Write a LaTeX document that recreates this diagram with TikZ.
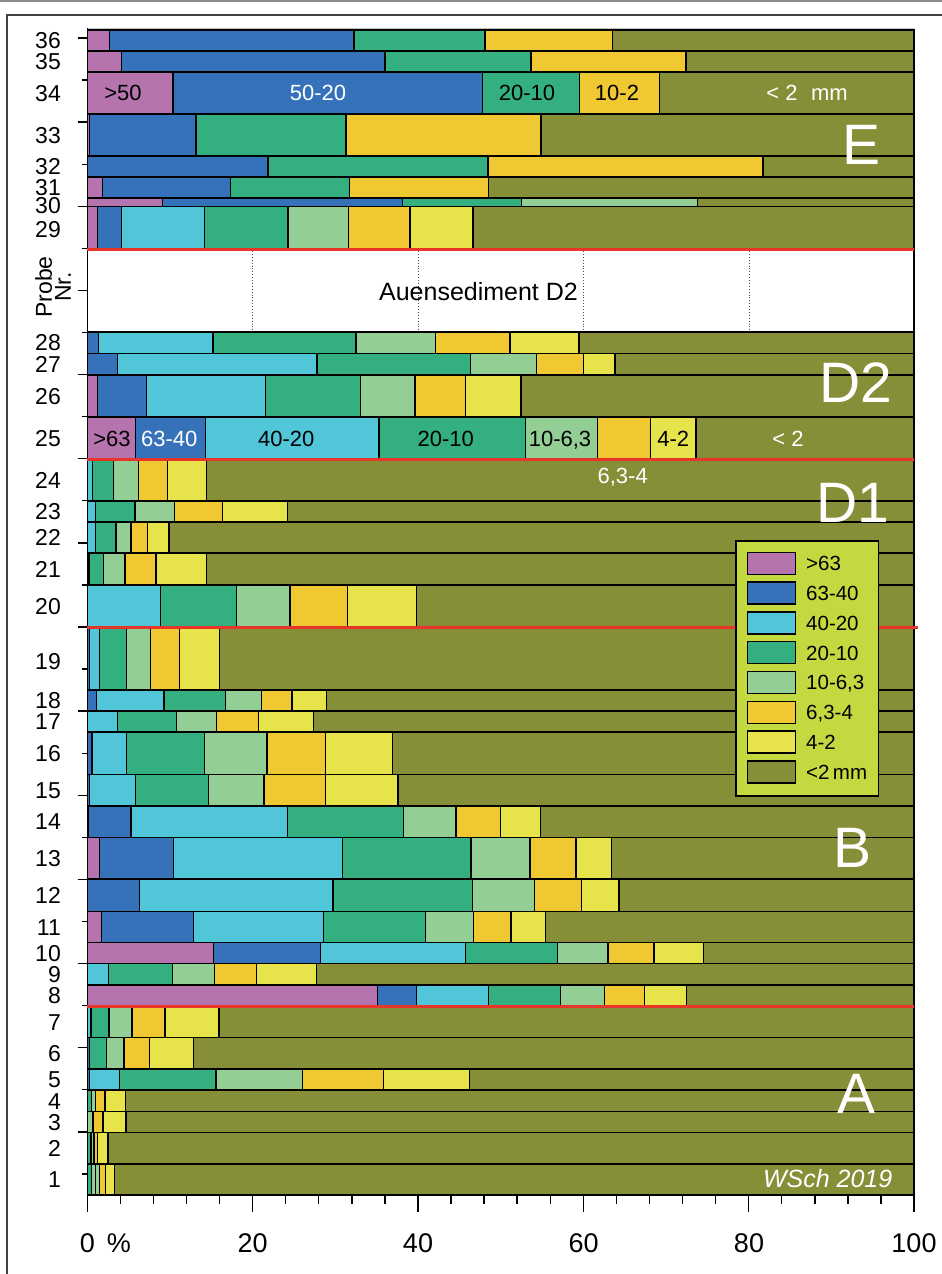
\documentclass[tikz,border=0pt]{standalone}
\usepackage{fontspec}
\setmainfont{Liberation Sans}
\definecolor{pu}{HTML}{B574AE}
\definecolor{bl}{HTML}{3672B9}
\definecolor{cy}{HTML}{50C6D8}
\definecolor{gr}{HTML}{33AF80}
\definecolor{lg}{HTML}{93CE95}
\definecolor{or}{HTML}{F0C832}
\definecolor{ye}{HTML}{E6E44A}
\definecolor{ol}{HTML}{868F38}
\definecolor{legbg}{HTML}{C4D940}
\definecolor{redl}{HTML}{E8352A}
\newcommand{\fsz}[1]{\fontsize{#1}{#1}\selectfont}
\newcommand{\gbar}[3]{%
  \xdef\gx{87.3}%
  \foreach \xe/\cc in {#3}{%
    \filldraw[seg, fill=\cc] (\gx,#1) rectangle (\xe,#2);%
    \xdef\gx{\xe}%
  }%
}
\begin{document}
\begin{tikzpicture}[x=1pt,y=-1pt,
  seg/.style={draw=black,line width=1.3pt},
  axisline/.style={draw=black,line width=1.4pt},
  redline/.style={draw=redl,line width=3pt},
  rowlab/.style={font=\fsz{23},inner sep=0pt,text height=16.4pt,text depth=0pt,anchor=east},
  barlab/.style={font=\fsz{22},inner sep=0pt,text height=15.75pt,text depth=0pt,anchor=center},
  leglab/.style={font=\fsz{20.5},inner sep=0pt,text height=14.7pt,text depth=0pt,anchor=west},
  axlab/.style={font=\fsz{27},inner sep=0pt,text height=19.3pt,text depth=0pt,anchor=center},
  biglab/.style={font=\fsz{57},text=white,inner sep=0pt,text height=40.8pt,text depth=0pt,anchor=center}]
\useasboundingbox (0,0) rectangle (942,1274);
\fill[white] (0,0) rectangle (942,1274);
% page frame
\draw[black!45, line width=1.2pt] (0,1) -- (942,1);
\draw[black!75, line width=1.2pt] (7,1274) -- (7,15) -- (942,15);
\draw[black!25, line width=0.8pt] (87.3,28) -- (914,28);
% white box
\filldraw[seg, fill=white] (87.3,249) rectangle (914,332);
\foreach \xx in {252.6,418,583.6,749}
  \draw[black!70, dotted, line width=0.9pt] (\xx,251) -- (\xx,330);
\node[font=\fsz{25},inner sep=0pt,text height=17.9pt,text depth=0pt] (aue) at (478.5,291.7) {Auensediment D2};
% bars
\gbar{30}{51}{109.7/pu,354/bl,485/gr,612.7/or,914/ol}
\gbar{51}{72}{121.3/pu,385/bl,531/gr,686/or,914/ol}
\gbar{72}{114}{173/pu,482.3/bl,579.3/gr,659.7/or,914/ol}
\gbar{114}{156}{89.3/pu,196/bl,346/gr,541/or,914/ol}
\gbar{156}{177}{268/bl,488/gr,763/or,914/ol}
\gbar{177}{198}{102.3/pu,230.3/bl,349.7/gr,488.3/or,914/ol}
\gbar{198}{206.5}{162.3/pu,402.3/bl,521.7/gr,697.7/lg,914/ol}
\gbar{206.5}{249}{97.3/pu,121.7/bl,204.3/cy,288/gr,348.7/lg,410/or,473/ye,914/ol}
\gbar{332}{353.5}{98.3/bl,213/cy,356/gr,435.7/lg,510/or,579/ye,914/ol}
\gbar{353.5}{375}{117.3/bl,317/cy,470.3/gr,536.7/lg,583.3/or,615/ye,914/ol}
\gbar{375}{417}{97.3/pu,146.7/bl,265.3/cy,360.7/gr,415/lg,465.3/or,521/ye,914/ol}
\gbar{417}{459}{135.7/pu,205.7/bl,379/cy,525.3/gr,597.3/lg,650.7/or,696/ye,914/ol}
\gbar{459}{501}{92.3/cy,113.3/gr,138.3/lg,167.7/or,206.7/ye,914/ol}
\gbar{501}{522}{95.7/cy,135/gr,174.7/lg,222.3/or,287.3/ye,914/ol}
\gbar{522}{553}{95.7/cy,116/gr,131/lg,147.7/or,169/ye,914/ol}
\gbar{553}{585}{89/cy,103.7/gr,125/lg,156/or,206.7/ye,914/ol}
\gbar{585}{627}{160.7/cy,236.7/gr,290/lg,347.7/or,416.7/ye,914/ol}
\gbar{627}{690}{89.3/bl,99.3/cy,126.3/gr,150.7/lg,179.3/or,219.3/ye,914/ol}
\gbar{690}{711}{96.7/bl,164/cy,225.3/gr,261.3/lg,292/or,326.7/ye,914/ol}
\gbar{711}{732}{117.7/cy,176.3/gr,216.3/lg,258.7/or,313.7/ye,914/ol}
\gbar{732}{774.5}{92/bl,126.3/cy,204.3/gr,267/lg,325.7/or,392.3/ye,914/ol}
\gbar{774.5}{806}{89.7/bl,135.3/cy,208.7/gr,264/lg,325.3/or,398/ye,914/ol}
\gbar{806}{837.5}{88.7/pu,131/bl,287.7/cy,403.3/gr,456/lg,500.7/or,540.7/ye,914/ol}
\gbar{837.5}{879}{99.3/pu,173.3/bl,342.3/cy,471/gr,530/lg,576/or,611.7/ye,914/ol}
\gbar{879}{911.5}{139.3/bl,333/cy,472.7/gr,534.3/lg,581.7/or,619/ye,914/ol}
\gbar{911.5}{942.5}{101.7/pu,193.7/bl,323.7/cy,425.3/gr,473.5/lg,511/or,545.7/ye,914/ol}
\gbar{942.5}{963.5}{213.7/pu,320.3/bl,465.5/cy,557.7/gr,608/lg,654/or,703.3/ye,914/ol}
\gbar{963.5}{985}{108.3/cy,172.3/gr,214.7/lg,256.7/or,316.3/ye,914/ol}
\gbar{985}{1006}{377.7/pu,416.3/bl,488.3/cy,560.7/gr,604.3/lg,644.3/or,686.7/ye,914/ol}
\gbar{1006}{1037.5}{91/cy,109/gr,132/lg,165/or,219/ye,914/ol}
\gbar{1037.5}{1069}{89.5/bl,106.3/gr,124/lg,149.7/or,193.3/ye,914/ol}
\gbar{1069}{1090}{89.7/bl,119.7/cy,216/gr,302.7/lg,383.7/or,469.3/ye,914/ol}
\gbar{1090}{1111.5}{91.3/gr,95.7/lg,105/or,125.7/ye,914/ol}
\gbar{1111.5}{1132.5}{93/lg,103/or,126/ye,914/ol}
\gbar{1132.5}{1164}{91/gr,94/lg,97.7/or,108/ye,914/ol}
\gbar{1164}{1195}{91.7/gr,95.7/lg,99.7/lg,105.3/or,114.3/ye,914/ol}
% axes
\draw[axisline] (87.3,28) -- (87.3,1195) -- (914,1195);
\foreach \k in {0,2,...,26} \draw[axisline] (77.7,{38+\k*42.07}) -- (87.3,{38+\k*42.07});
\foreach \k in {1,3,...,27} \draw[axisline] (81.7,{38+\k*42.07}) -- (87.3,{38+\k*42.07});
\foreach \i in {0,...,25} \draw[axisline] ({87.3+\i*33.068},1195) -- ({87.3+\i*33.068},1204);
\foreach \i in {0,5,...,25} \draw[axisline] ({87.3+\i*33.068},1195) -- ({87.3+\i*33.068},1212);
\node[axlab,anchor=west] (ax0) at (79.6,1242.7) {0\, \%};
\foreach \v/\xx in {20/252.6,40/418,60/583.6,80/749,100/914}
  \node[axlab] (ax\v) at (\xx,1242.7) {\v};
% red group lines
\draw[redline] (87.3,249) -- (914,249);
\draw[redline] (87.3,459) -- (914,459);
\draw[redline] (87.3,627) -- (918,627);
\draw[redline] (87.3,1006) -- (914,1006);
% row labels
\foreach \n/\yy in {36/40.5,35/61.5,34/93,33/135,32/166.5,31/187,30/205.5,29/229,28/342.7,27/364,26/396,25/438,24/480,23/511.5,22/537.5,21/569,20/606,19/661,18/700.5,17/721.5,16/753,15/790,14/821.7,13/858,12/895,11/927,10/953,9/974,8/995.5,7/1022,6/1053,5/1079.5,4/1101,3/1122,2/1148,1/1179.5}
  \node[rowlab] (r\n) at (61,\yy) {\n};
\node[font=\fsz{23},rotate=90,align=center,inner sep=0pt] (probe) at (53,287) {Probe\\[-4pt]Nr.};
% in-bar labels, row 34
\node[barlab] (t34a) at (123,93) {>50};
\node[barlab,text=white] (t34b) at (318,93) {50-20};
\node[barlab] (t34c) at (527,93) {20-10};
\node[barlab] (t34d) at (617,93) {10-2};
\node[barlab,text=white] (t34e) at (807,93) {< 2\,\, mm};
% in-bar labels, row 25
\node[barlab] (t25a) at (112,439) {>63};
\node[barlab,text=white] (t25b) at (169.2,439) {63-40};
\node[barlab] (t25c) at (286.2,439) {40-20};
\node[barlab] (t25d) at (445.8,439) {20-10};
\node[barlab] (t25e) at (560,439) {10-6,3};
\node[barlab] (t25f) at (673.3,439) {4-2};
\node[barlab,text=white] (t25g) at (788,439) {< 2};
\node[barlab,text=white] (t25h) at (622.7,475.7) {6,3-4};
% big group letters
\node[biglab] (gE) at (861,144) {E};
\node[biglab] (gD2) at (856,382.5) {D2};
\node[biglab] (gD1) at (853,501.7) {D1};
\node[biglab] (gB) at (852,847) {B};
\node[biglab] (gA) at (856,1093.3) {A};
\node[font=\fsz{25}\itshape,text=white,inner sep=0pt,text height=17.9pt,text depth=0pt,anchor=east] (sig) at (892.5,1179) {WSch 2019};
% legend
\filldraw[draw=black,line width=1.3pt,fill=legbg] (736,541) rectangle (878.7,796);
\foreach \c/\t [count=\i from 0] in {pu/{>63},bl/{63-40},cy/{40-20},gr/{20-10},lg/{10-6,3},or/{6,3-4},ye/{4-2},ol/{<2\,mm}}{
  \filldraw[seg,fill=\c] (747.3,{552.3+\i*29.8}) rectangle (795.7,{574.3+\i*29.8});
  \node[leglab] (leg\i) at (806,{563.3+\i*29.8}) {\t};
}
\end{tikzpicture}
\end{document}
